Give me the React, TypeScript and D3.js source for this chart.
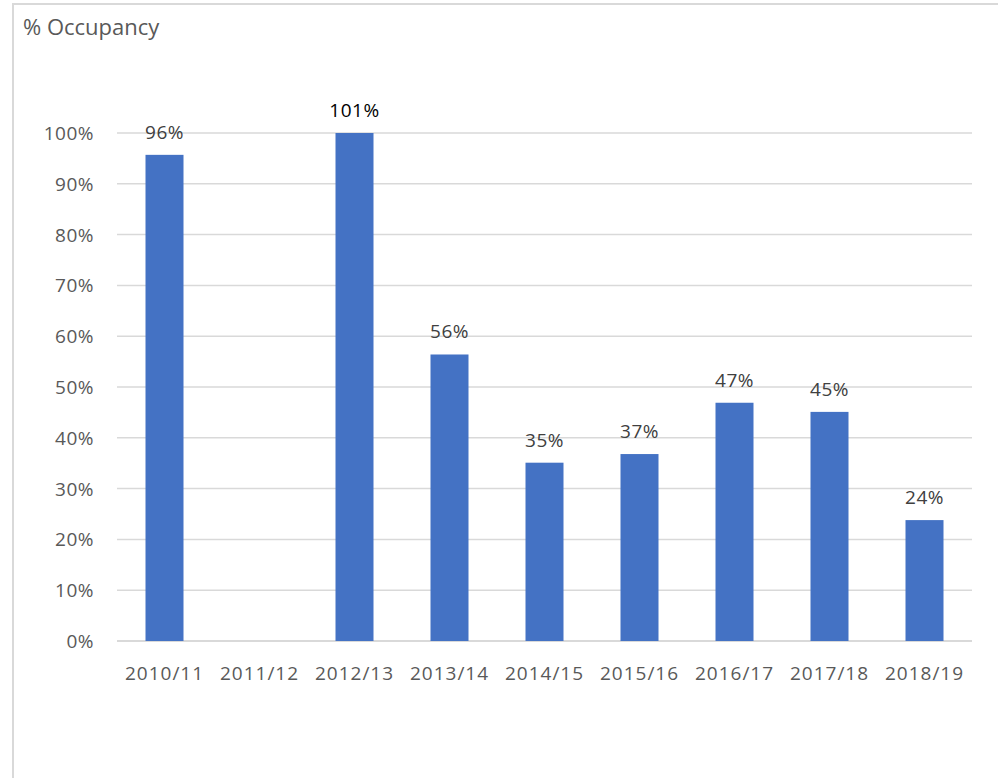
import React from "react";
import * as d3 from "d3";

const categories = ["2010/11", "2011/12", "2012/13", "2013/14", "2014/15", "2015/16", "2016/17", "2017/18", "2018/19"];
const values: (number | null)[] = [95.7, null, 101, 56.4, 35.1, 36.8, 46.9, 45.1, 23.8];
const labels = ["96%", "", "101%", "56%", "35%", "37%", "47%", "45%", "24%"];
const yTicks = [0, 10, 20, 30, 40, 50, 60, 70, 80, 90, 100];

const W = 998, H = 778;
const left = 117, right = 972, top = 133, bottom = 641;
const FONT = "'Open Sans', 'Liberation Sans', sans-serif";
const FS = 19;

export default function App() {
  const x = d3.scaleBand<string>().domain(categories).range([left, right]).paddingInner(0.6).paddingOuter(0.3);
  const y = d3.scaleLinear().domain([0, 100]).range([bottom, top]);
  return (
    <svg width={W} height={H} style={{ position: "absolute", left: 0, top: 0, background: "#fff" }}>
      <rect x={13} y={4} width={W} height={H} fill="#fff" stroke="#d9d9d9" strokeWidth={2} />
      <text x={23} y={35} fontFamily={FONT} fontSize={22} fill="#595959">% Occupancy</text>
      {yTicks.map((t) => (
        <g key={t}>
          <line x1={left} x2={right} y1={y(t)} y2={y(t)} stroke="#d9d9d9" strokeWidth={t === 0 ? 2 : 1.5} />
          <text x={94} y={y(t) + 7} textAnchor="end" fontFamily={FONT} fontSize={FS} fill="#595959" letterSpacing={0.5}>{t}%</text>
        </g>
      ))}
      {categories.map((c, i) => {
        const v = values[i];
        const cx = (x(c) as number) + x.bandwidth() / 2;
        return (
          <g key={c}>
            {v !== null && (
              <>
                <rect x={x(c)} y={y(Math.min(v, 100))} width={x.bandwidth()} height={bottom - y(Math.min(v, 100))} fill="#4472c4" />
                <text x={cx} y={y(Math.min(v, 100)) - 16} textAnchor="middle" fontFamily={FONT} fontSize={FS} fill={v > 100 ? "#000" : "#404040"} letterSpacing={0.5}>{labels[i]}</text>
              </>
            )}
            <text x={cx} y={680} textAnchor="middle" fontFamily={FONT} fontSize={FS} fill="#595959" letterSpacing={1}>{c}</text>
          </g>
        );
      })}
    </svg>
  );
}
